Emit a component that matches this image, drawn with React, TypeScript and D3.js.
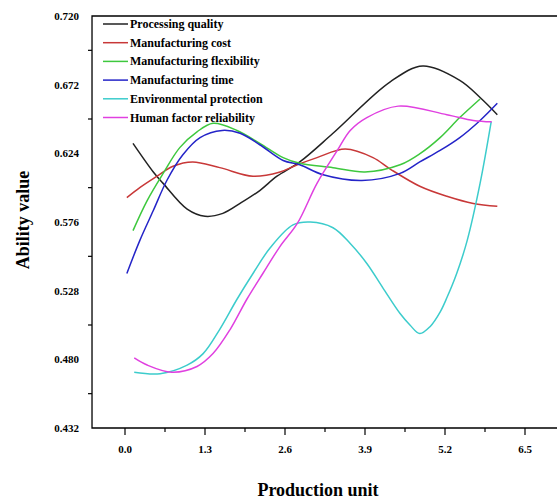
import React, { useEffect, useRef } from 'react';
import * as d3 from 'd3';

// axis labels
const xTickValues = [0, 1.3, 2.6, 3.9, 5.2, 6.5];
const yTickValues = [0.432, 0.48, 0.528, 0.576, 0.624, 0.672, 0.72];

// curves (production unit, ability value)
const qualityX = [0.13, 0.46, 0.62, 1.01, 1.3, 1.59, 1.87, 2.19, 2.47, 2.84, 3.38, 4.31, 4.84, 5.44, 5.77, 6.05];
const qualityY = [0.631, 0.611, 0.603, 0.585, 0.58, 0.582, 0.589, 0.598, 0.608, 0.618, 0.638, 0.674, 0.685, 0.675, 0.663, 0.651];

const costX = [0.03, 0.24, 0.52, 0.78, 1.1, 1.54, 2.08, 2.52, 2.8, 3.12, 3.58, 4.03, 4.31, 4.79, 5.23, 5.66, 6.05];
const costY = [0.593, 0.6, 0.608, 0.615, 0.618, 0.614, 0.608, 0.611, 0.616, 0.621, 0.627, 0.621, 0.613, 0.601, 0.594, 0.589, 0.587];

const flexX = [0.13, 0.36, 0.62, 0.89, 1.17, 1.43, 1.82, 2.19, 2.57, 2.84, 3.38, 3.9, 4.47, 4.8, 5.12, 5.44, 5.77];
const flexY = [0.57, 0.591, 0.61, 0.628, 0.639, 0.645, 0.64, 0.631, 0.621, 0.617, 0.614, 0.611, 0.616, 0.624, 0.635, 0.649, 0.662];

const timeX = [0.03, 0.24, 0.46, 0.68, 0.94, 1.22, 1.58, 1.87, 2.19, 2.57, 2.84, 3.22, 3.85, 4.47, 4.79, 5.12, 5.44, 5.77, 6.05];
const timeY = [0.54, 0.563, 0.584, 0.605, 0.623, 0.635, 0.64, 0.638, 0.63, 0.619, 0.616, 0.609, 0.605, 0.61, 0.618, 0.626, 0.635, 0.647, 0.659];

const envX = [0.15, 0.57, 1.01, 1.27, 1.54, 1.82, 2.08, 2.36, 2.73, 3.01, 3.38, 3.66, 3.93, 4.19, 4.47, 4.63, 4.79, 4.96, 5.12, 5.23, 5.39, 5.56, 5.77, 5.95];
const envY = [0.471, 0.47, 0.476, 0.484, 0.501, 0.522, 0.54, 0.558, 0.574, 0.576, 0.572, 0.561, 0.547, 0.53, 0.512, 0.504, 0.498, 0.503, 0.513, 0.523, 0.54, 0.563, 0.603, 0.646];

const humanX = [0.15, 0.36, 0.76, 1.17, 1.43, 1.71, 1.98, 2.24, 2.52, 2.8, 3.12, 3.45, 3.66, 3.93, 4.44, 5.23, 5.66, 5.96];
const humanY = [0.481, 0.476, 0.471, 0.475, 0.484, 0.501, 0.522, 0.54, 0.559, 0.575, 0.603, 0.626, 0.64, 0.649, 0.657, 0.651, 0.647, 0.646];

const seriesNames = [
  'Processing quality',
  'Manufacturing cost',
  'Manufacturing flexibility',
  'Manufacturing time',
  'Environmental protection',
  'Human factor reliability',
];
const seriesColors = ['#222222', '#c83838', '#3ec83e', '#2424c8', '#3ccccc', '#e040e0'];
const seriesXs = [qualityX, costX, flexX, timeX, envX, humanX];
const seriesYs = [qualityY, costY, flexY, timeY, envY, humanY];

const FONT = "'Liberation Serif', 'Times New Roman', serif";

export default function App() {
  const svgRef = useRef<SVGSVGElement>(null);

  useEffect(() => {
    const svg = d3.select(svgRef.current);
    svg.selectAll('*').remove();

    const x = d3.scaleLinear().domain([0, 6.5]).range([125, 525]);
    const y = d3.scaleLinear().domain([0.432, 0.72]).range([428, 16]);
    const left = x(-0.536);
    const right = x(7.2);
    const top = y(0.72);
    const bottom = y(0.432);

    // frame (right side falls outside the picture)
    svg.append('path')
      .attr('d', `M${right},${top}H${left}V${bottom}H${right}`)
      .attr('fill', 'none')
      .attr('stroke', '#000')
      .attr('stroke-width', 1.3);

    // x ticks
    const xMinor = xTickValues.map(d => d + 0.65).filter(d => x(d) < 557);
    svg.append('g').selectAll('line.major').data(xTickValues).enter().append('line')
      .attr('x1', d => x(d)).attr('x2', d => x(d))
      .attr('y1', bottom).attr('y2', bottom + 7)
      .attr('stroke', '#000').attr('stroke-width', 1.2);
    svg.append('g').selectAll('line.minor').data(xMinor).enter().append('line')
      .attr('x1', d => x(d)).attr('x2', d => x(d))
      .attr('y1', bottom).attr('y2', bottom + 4)
      .attr('stroke', '#000').attr('stroke-width', 1.2);
    svg.append('g').selectAll('text').data(xTickValues).enter().append('text')
      .attr('x', d => x(d))
      .attr('y', bottom + 25)
      .attr('text-anchor', 'middle')
      .style('font-family', FONT)
      .style('font-size', '11px')
      .style('font-weight', 'bold')
      .text(d => d.toFixed(1));

    // y labels; the tick marks sit halfway between them
    const yMinor = yTickValues.slice(1).map(d => d - 0.024);
    svg.append('g').selectAll('line').data(yMinor).enter().append('line')
      .attr('x1', left - 4).attr('x2', left)
      .attr('y1', d => y(d)).attr('y2', d => y(d))
      .attr('stroke', '#000').attr('stroke-width', 1.2);
    svg.append('g').selectAll('text').data(yTickValues).enter().append('text')
      .attr('x', 79)
      .attr('y', d => y(d) + 4)
      .attr('text-anchor', 'end')
      .style('font-family', FONT)
      .style('font-size', '11px')
      .style('font-weight', 'bold')
      .text(d => d.toFixed(3));

    // axis titles
    svg.append('text')
      .attr('x', 318)
      .attr('y', 496)
      .attr('text-anchor', 'middle')
      .style('font-family', FONT)
      .style('font-size', '18px')
      .style('font-weight', 'bold')
      .text('Production unit');
    svg.append('text')
      .attr('transform', 'translate(29,220) rotate(-90)')
      .attr('text-anchor', 'middle')
      .style('font-family', FONT)
      .style('font-size', '18px')
      .style('font-weight', 'bold')
      .text('Ability value');

    // curves
    const line = d3.line<[number, number]>()
      .x(d => x(d[0]))
      .y(d => y(d[1]))
      .curve(d3.curveCatmullRom.alpha(0.5));
    seriesNames.forEach((name, i) => {
      const pts = seriesXs[i].map((v, j) => [v, seriesYs[i][j]] as [number, number]);
      svg.append('path')
        .attr('d', line(pts))
        .attr('fill', 'none')
        .attr('stroke', seriesColors[i])
        .attr('stroke-width', 1.5);
    });

    // legend
    const legend = svg.append('g').attr('transform', 'translate(103,24)');
    seriesNames.forEach((name, i) => {
      legend.append('line')
        .attr('x1', 0).attr('x2', 25)
        .attr('y1', i * 18.7).attr('y2', i * 18.7)
        .attr('stroke', seriesColors[i])
        .attr('stroke-width', 1.5);
      legend.append('text')
        .attr('x', 27)
        .attr('y', i * 18.7 + 4)
        .style('font-family', FONT)
        .style('font-size', '12px')
        .style('font-weight', 'bold')
        .text(name);
    });
  }, []);

  return (
    <svg
      ref={svgRef}
      width={557}
      height={500}
      style={{ position: 'absolute', left: 0, top: 0, background: '#fff' }}
    />
  );
}
